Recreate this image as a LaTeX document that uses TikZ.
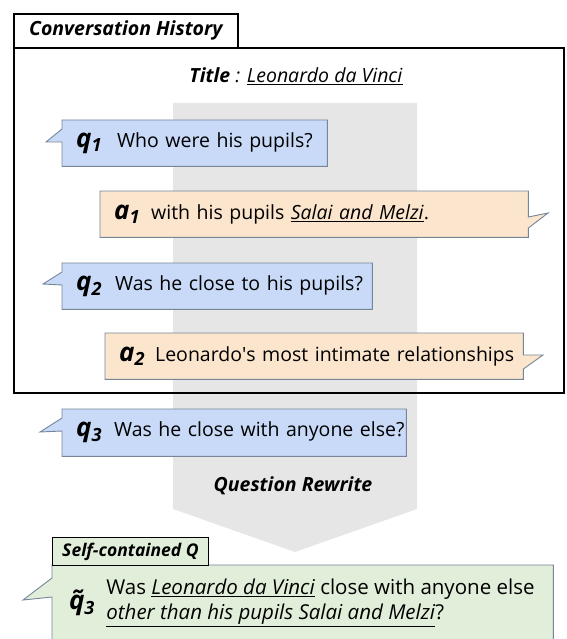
\documentclass[tikz,border=0pt]{standalone}
\usepackage{fontspec}
\setmainfont{Open Sans}
\usetikzlibrary{positioning, calc, backgrounds}
\definecolor{qblue}{HTML}{C9DAF8}
\definecolor{apeach}{HTML}{FCE5CD}
\definecolor{sgreen}{HTML}{E1EEDA}
\definecolor{rwgray}{HTML}{E6E6E6}
\definecolor{edgegray}{HTML}{76859A}
\newcommand{\turn}[2]{{\fontsize{26}{26}\selectfont\bfseries\itshape #1\textsubscript{#2}}}
% speech bubbles: node, style, tip, tail start, tail end (pt below the top)
\newcommand{\leftbubble}[5]{%
  \draw[#2] (#1.north west) -- (#1.north east) -- (#1.south east) -- (#1.south west)
    -- ([yshift=-#5pt]#1.north west) -- #3 -- ([yshift=-#4pt]#1.north west) -- cycle;}
\newcommand{\rightbubble}[5]{%
  \draw[#2] (#1.north west) -- (#1.north east) -- ([yshift=-#4pt]#1.north east) -- #3
    -- ([yshift=-#5pt]#1.north east) -- (#1.south east) -- (#1.south west) -- cycle;}

\begin{document}
\begin{tikzpicture}[x=1pt, y=-1pt,
  turnbox/.style={inner xsep=14pt, inner ysep=0pt, anchor=north west, align=left,
    minimum height=46pt, font=\fontsize{19.5}{23}\selectfont},
  qbox/.style={fill=qblue, draw=edgegray, line width=0.9pt},
  abox/.style={fill=apeach, draw=edgegray, line width=0.9pt},
  sbox/.style={fill=sgreen, draw=edgegray, line width=0.9pt},
  tabbox/.style={draw, line width=1.6pt, inner sep=0pt, anchor=north west,
    font=\fontsize{19.5}{23}\selectfont\bfseries\itshape},
  caption/.style={font=\fontsize{19.5}{23}\selectfont},
]
\useasboundingbox (0,0) rectangle (566,639);

% ---- Rewrite arrow (behind everything) ----
\begin{scope}[on background layer]
  \fill[rwgray] (173,103) -- (417,103) -- (417,509) -- (295,552) -- (173,509) -- cycle;
\end{scope}

% ---- Conversation history frame ----
\node[draw, line width=1.6pt, minimum width=550pt, minimum height=345pt,
  anchor=north west, inner sep=0pt] (hist) at (13,47) {};
\node[tabbox, fill=white, minimum width=224pt, minimum height=34pt] (histtab)
  at (13,13) {Conversation History};
\node[caption] (title) at (296,76)
  {\textbf{\textit{Title}} \textit{:} \underline{\textit{Leonardo da Vinci}}};

% ---- Turns ----
\node[turnbox, text width=237pt] (q1) at (62,120)
  {\mbox{\turn{q}{1}\hspace{15pt}Who were his pupils?}};
\node[turnbox, text width=400pt] (a1) at (100,191)
  {\mbox{\turn{a}{1}\hspace{11pt}with his pupils \underline{\textit{Salai and Melzi}}.}};
\node[turnbox, text width=282pt] (q2) at (62,263)
  {\mbox{\turn{q}{2}\hspace{13pt}Was he close to his pupils?}};
\node[turnbox, text width=390pt] (a2) at (105,333)
  {\mbox{\turn{a}{2}\hspace{10pt}Leonardo\textquotesingle s most intimate relationships}};
\node[turnbox, text width=316pt, minimum height=47pt] (q3) at (62,409)
  {\mbox{\turn{q}{3}\hspace{12pt}Was he close with anyone else?}};

\begin{scope}[on background layer]
  \leftbubble{q1}{qbox}{(46,142)}{9}{22}
  \rightbubble{a1}{abox}{(548,213)}{26}{37}
  \leftbubble{q2}{qbox}{(43,284)}{9}{22}
  \rightbubble{a2}{abox}{(543,355)}{22}{36}
  \leftbubble{q3}{qbox}{(40,432)}{9}{22}
\end{scope}

\node[caption, font=\fontsize{19.5}{23}\selectfont\bfseries\itshape] (rw) at (293,486)
  {Question Rewrite};

% ---- Self-contained question ----
\node[inner sep=0pt, minimum width=501pt, minimum height=80pt, anchor=north west]
  (selfq) at (52,565) {};
\begin{scope}[on background layer]
  \leftbubble{selfq}{sbox}{(23,600)}{13}{32}
\end{scope}
\node[tabbox, fill=sgreen, line width=0.9pt, minimum width=156pt, minimum height=28pt,
  font=\fontsize{17.5}{20}\selectfont\bfseries\itshape] (selftab) at (52,537) {Self-contained Q};
\node[inner sep=0pt] (q3t) at (82,603) {\turn{\~{q}}{3}};
\node[inner sep=0pt, anchor=west, align=left, font=\fontsize{20.5}{25}\selectfont,
  right=11pt of q3t] (q3text)
  {Was \underline{\textit{Leonardo da Vinci}} close with anyone else\\
   \underline{\textit{other than his pupils Salai and Melzi}}?};

\end{tikzpicture}
\end{document}
